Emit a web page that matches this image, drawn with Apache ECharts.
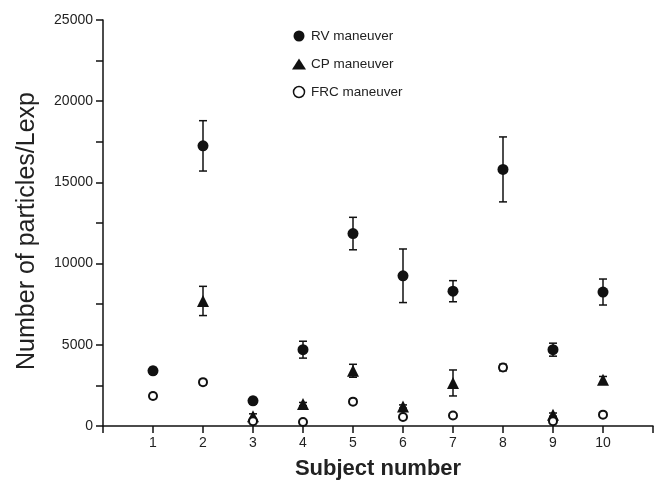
<!DOCTYPE html>
<html lang="en">
<head>
<meta charset="UTF-8">
<script src="https://cdn.jsdelivr.net/npm/echarts@6.0.0/dist/echarts.min.js"></script>
<title>particles per Lexp</title>
</head>
<body style="margin: 0">
<div id="container" style="width: 656px; height: 485px"></div>
<script>
    // values (mean and half error bar)
    var subjects = [1, 2, 3, 4, 5, 6, 7, 8, 9, 10];
    var rvMean = [3400, 17250, 1550, 4700, 11850, 9250, 8300, 15800, 4700, 8250];
    var rvErr = [200, 1550, 200, 520, 1000, 1650, 650, 2000, 400, 800];
    var cpMean = [null, 7700, 600, 1350, 3400, 1200, 2650, null, 700, 2850];
    var cpErr = [null, 900, 150, 100, 400, 100, 800, null, 100, 200];
    var frcMean = [1850, 2700, 300, 250, 1500, 550, 650, 3600, 300, 700];
    var frcErr = [150, 150, 100, 80, 150, 80, 80, 200, 80, 100];
    var yTicks = [0, 5000, 10000, 15000, 20000, 25000];

    var font = "'Liberation Sans', Arial, sans-serif";

    function points(mean) {
        var out = [];
        for (var i = 0; i < subjects.length; i++) {
            if (mean[i] != null) out.push([subjects[i], mean[i]]);
        }
        return out;
    }

    function errors(mean, err) {
        var out = [];
        for (var i = 0; i < subjects.length; i++) {
            if (mean[i] != null) out.push([subjects[i], mean[i] - err[i], mean[i] + err[i]]);
        }
        return out;
    }

    function renderErr(params, api) {
        var lo = api.coord([api.value(0), api.value(1)]);
        var hi = api.coord([api.value(0), api.value(2)]);
        var w = 4;
        var st = { stroke: '#111', lineWidth: 1.5 };
        return {
            type: 'group',
            children: [
                { type: 'line', shape: { x1: lo[0], y1: lo[1], x2: hi[0], y2: hi[1] }, style: st },
                { type: 'line', shape: { x1: lo[0] - w, y1: lo[1], x2: lo[0] + w, y2: lo[1] }, style: st },
                { type: 'line', shape: { x1: hi[0] - w, y1: hi[1], x2: hi[0] + w, y2: hi[1] }, style: st }
            ]
        };
    }

    var myChart = echarts.init(document.getElementById('container'));

    var option = {
        animation: false,
        backgroundColor: '#fff',
        grid: { left: 103, right: 1, top: 20, bottom: 58 },
        legend: {
            data: [
                { name: 'RV maneuver' },
                { name: 'CP maneuver' },
                { name: 'FRC maneuver', itemStyle: { borderWidth: 1.5 } }
            ],
            orient: 'vertical',
            left: 287,
            top: 24,
            itemWidth: 14,
            itemHeight: 11,
            itemGap: 14,
            textStyle: { fontFamily: font, fontSize: 13.5, color: '#222' }
        },
        xAxis: {
            type: 'value',
            min: 0,
            max: 11,
            interval: 1,
            name: 'Subject number',
            nameLocation: 'middle',
            nameGap: 32,
            nameTextStyle: { fontFamily: font, fontSize: 22, fontWeight: 'bold', color: '#222' },
            axisLine: { lineStyle: { color: '#111', width: 1.5 } },
            axisTick: { length: 7, lineStyle: { color: '#111', width: 1.5 } },
            axisLabel: {
                fontFamily: font, fontSize: 14, color: '#222', margin: 10,
                formatter: function (v) { return (v >= 1 && v <= 10) ? String(v) : ''; }
            },
            splitLine: { show: false }
        },
        yAxis: {
            type: 'value',
            min: 0,
            max: 25000,
            interval: 2500,
            name: 'Number of particles/Lexp',
            nameLocation: 'middle',
            nameGap: 63,
            nameTextStyle: { fontFamily: font, fontSize: 25, color: '#222', padding: [0, 16, 0, 0] },
            axisLine: { show: true, lineStyle: { color: '#111', width: 1.5 } },
            axisTick: { show: true, length: 7, lineStyle: { color: '#111', width: 1.5 } },
            axisLabel: {
                fontFamily: font, fontSize: 14, color: '#222', margin: 10,
                formatter: function (v) { return yTicks.indexOf(v) >= 0 ? String(v) : ''; }
            },
            splitLine: { show: false }
        },
        series: [
            { type: 'custom', name: 'rvErr', renderItem: renderErr, data: errors(rvMean, rvErr), z: 1 },
            { type: 'custom', name: 'cpErr', renderItem: renderErr, data: errors(cpMean, cpErr), z: 1 },
            { type: 'custom', name: 'frcErr', renderItem: renderErr, data: errors(frcMean, frcErr), z: 1 },
            {
                name: 'RV maneuver', type: 'scatter', symbol: 'circle', symbolSize: 11,
                itemStyle: { color: '#111', opacity: 1 }, data: points(rvMean), z: 3
            },
            {
                name: 'CP maneuver', type: 'scatter', symbol: 'triangle', symbolSize: 12,
                itemStyle: { color: '#111', opacity: 1 }, data: points(cpMean), z: 3
            },
            {
                name: 'FRC maneuver', type: 'scatter', symbol: 'circle', symbolSize: 8,
                itemStyle: { color: '#fff', borderColor: '#111', borderWidth: 2, opacity: 1 },
                data: points(frcMean), z: 4
            }
        ]
    };

    myChart.setOption(option);
</script>
</body>
</html>
